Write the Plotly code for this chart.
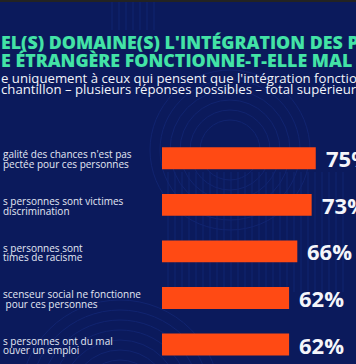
import plotly.graph_objects as go

# ---- data ----
categories = [
    "galité des chances n'est pas<br>pectée pour ces personnes",
    "s personnes sont victimes<br>discrimination",
    "s personnes sont<br>times de racisme",
    "scenseur social ne fonctionne<br>\u00a0pour ces personnes",
    "s personnes ont du mal<br>ouver un emploi",
]
values = [75, 73, 66, 62, 62]
value_labels = ["75%", "73%", "66%", "62%", "62%"]
title_lines = [
    "EL(S) DOMAINE(S) L'INTÉGRATION DES PE",
    "E ÉTRANGÈRE FONCTIONNE-T-ELLE MAL ?",
]
subtitle_lines = [
    "e uniquement à ceux qui pensent que l'intégration fonction",
    "chantillon – plusieurs réponses possibles – total supérieur à",
]

# ---- layout constants ----
W, H = 356, 364
ML, MR, MT, MB = 162, 0, 135, 0
PW, PH = W - ML - MR, H - MT - MB
BG = "#0b1a5c"
DECO = "#112470"
GREEN = "#43e3a6"
BAR = "#ff4a14"


def px(x):
    return (x - ML) / PW


def py(y):
    return 1 - (y - MT) / PH


fig = go.Figure()
fig.add_trace(go.Bar(
    x=values, y=list(range(len(categories))), orientation="h",
    marker=dict(color=BAR, line=dict(width=0)),
    hoverinfo="skip",
))

# faint background decoration (TV graphic pattern)
shapes = []
for k in range(26):
    xx = 168 + 7 * k
    shapes.append(dict(type="line", xref="paper", yref="paper", layer="below",
                       x0=px(xx), x1=px(xx), y0=py(172), y1=py(292),
                       line=dict(color=DECO, width=1)))
for k in range(7):
    xx = 112 + 7 * k
    shapes.append(dict(type="line", xref="paper", yref="paper", layer="below",
                       x0=px(xx), x1=px(xx), y0=py(0), y1=py(30),
                       line=dict(color=DECO, width=1)))
for r in range(30, 110, 10):
    cx, cy = 120, 400
    shapes.append(dict(type="circle", xref="paper", yref="paper", layer="below",
                       x0=px(cx - r), x1=px(cx + r), y0=py(cy + r), y1=py(cy - r),
                       line=dict(color=DECO, width=1)))
for r in range(30, 90, 10):
    cx, cy = 230, 150
    shapes.append(dict(type="circle", xref="paper", yref="paper", layer="below",
                       x0=px(cx - r), x1=px(cx + r), y0=py(cy + r), y1=py(cy - r),
                       line=dict(color=DECO, width=1)))
# thin dark strip at the very top
shapes.append(dict(type="rect", xref="paper", yref="paper", x0=px(0), x1=px(W),
                   y0=py(2), y1=py(-2), fillcolor="#232323", line=dict(width=0)))

ann = []
for i, t in enumerate(title_lines):
    ann.append(dict(text=t, x=px(-1), y=py(42 + 18 * i), xref="paper", yref="paper",
                    xanchor="left", yanchor="middle", showarrow=False,
                    font=dict(family="Open Sans", size=17.8, color=GREEN, weight=800)))
for i, t in enumerate(subtitle_lines):
    ann.append(dict(text=t, x=px(-1), y=py(78 + 11 * i), xref="paper", yref="paper",
                    xanchor="left", yanchor="middle", showarrow=False,
                    font=dict(family="Open Sans", size=13.2, color="#f2f4fa")))
for i, c in enumerate(categories):
    lines = c.split("<br>")
    for j, ln in enumerate(lines):
        ann.append(dict(text=ln, x=px(1), y=i, xref="paper", yref="y",
                        yshift=(len(lines) - 1) * 4.8 - 9.6 * j - 1,
                        xanchor="left", yanchor="middle", align="left", showarrow=False,
                        font=dict(family="Open Sans", size=10, color="#e4e8f4")))
for i, (v, lab) in enumerate(zip(values, value_labels)):
    ann.append(dict(text=lab, x=v, y=i, xref="x", yref="y", xshift=8,
                    xanchor="left", yanchor="middle", showarrow=False,
                    font=dict(family="Open Sans", size=22, color="#f4f5fa", weight=700)))

fig.update_layout(
    width=W, height=H,
    margin=dict(l=ML, r=MR, t=MT, b=MB, pad=0),
    paper_bgcolor=BG, plot_bgcolor="rgba(0,0,0,0)",
    showlegend=False,
    bargap=0.53,
    xaxis=dict(range=[0, PW / 2.05], visible=False, fixedrange=True),
    yaxis=dict(range=[4.5 - (367.8 - H) / 46.6, -0.5], visible=False, fixedrange=True),
    annotations=ann,
    shapes=shapes,
)

css = ("html,body{margin:0!important;padding:0!important;overflow:hidden!important;"
       "scrollbar-width:none;background:#0b1a5c;}"
       "::-webkit-scrollbar{display:none;width:0;height:0;}"
       ".plotly-graph-div,.svg-container{overflow:hidden!important;}")
fig.write_html(
    "out.html",
    config={"displayModeBar": False},
    post_script=(
        "var s=document.createElement('style');s.textContent=" + repr(css) + ";"
        "document.head.appendChild(s);"
    ),
)
